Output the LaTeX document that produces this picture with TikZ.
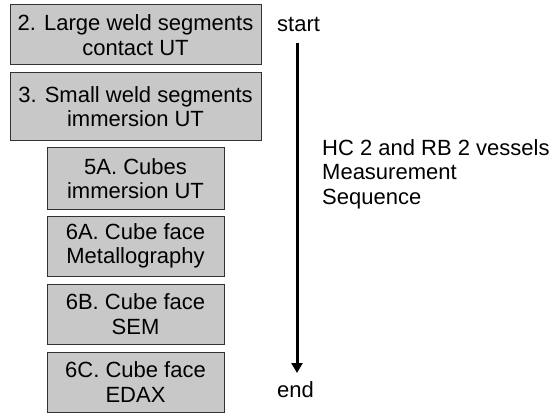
\documentclass[tikz,border=0pt]{standalone}
\usepackage{fontspec}
\setmainfont{Liberation Sans}
\usetikzlibrary{arrows.meta}
\definecolor{boxfill}{RGB}{200,200,200}
\definecolor{boxline}{RGB}{50,50,50}
\begin{document}
\begin{tikzpicture}[x=1pt,y=1pt,
  txt/.style={font=\fontsize{22}{24.5}\selectfont},
  stepbox/.style={txt, draw=boxline, fill=boxfill, line width=1pt, inner sep=0pt, align=center, minimum height=60pt},
  wide/.style={stepbox, minimum width=251pt},
  narrow/.style={stepbox, minimum width=177pt}]
\useasboundingbox[fill=white] (0,0) rectangle (554,413);
\node[wide] (b2) at (135.5,378) {2. Large weld segments\\contact UT};
\node[wide, minimum height=68pt] (b3) at (135.5,306.5) {3. Small weld segments\\immersion UT};
\node[narrow, minimum height=61pt] (b5a) at (135.5,234.5) {5A. Cubes\\immersion UT};
\node[narrow] (b6a) at (135.5,167) {6A. Cube face\\Metallography};
\node[narrow] (b6b) at (135.5,99) {6B. Cube face\\SEM};
\node[narrow] (b6c) at (135.5,31) {6C. Cube face\\EDAX};
\node[txt, anchor=base west, inner sep=0pt] (start) at (277,381) {start};
\node[txt, anchor=base west, inner sep=0pt] (end) at (277,16) {end};
\coordinate (atop) at (297,370);
\coordinate (abot) at (297,40);
\draw[line width=3pt, -{Triangle[width=11pt,length=10pt]}] (atop) -- (abot);
\node[txt, anchor=north west, inner sep=0pt, align=left] (seq) at (322,274) {HC 2 and RB 2 vessels\\Measurement\\Sequence};
\end{tikzpicture}
\end{document}
